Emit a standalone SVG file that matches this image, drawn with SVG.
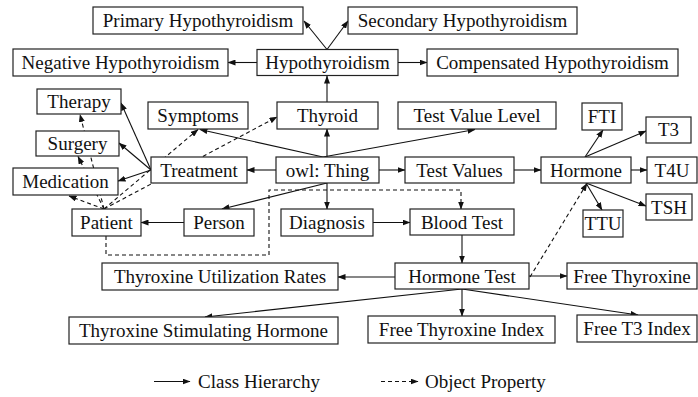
<svg xmlns="http://www.w3.org/2000/svg" width="698" height="397" viewBox="0 0 698 397">
<style>
.n rect{fill:#fff;stroke:#222;stroke-width:1.2}
.n text,.lg{font-family:"Liberation Serif","Times New Roman",serif;font-size:19px;fill:#111;text-anchor:middle}
.lg{text-anchor:start}
.c path{fill:none;stroke:#111;stroke-width:1.1;marker-end:url(#ah)}
.c path.d{stroke-dasharray:4,3}
</style>
<defs>
<marker id="ah" markerUnits="userSpaceOnUse" markerWidth="8" markerHeight="6" refX="7.5" refY="3" orient="auto">
<path d="M0,0 L8,3 L0,6 z" fill="#111"/>
</marker>
</defs>
<g id="connectors" class="c">
<path d="M327,49.5 L304,21"/>
<path d="M327,49.5 L348,21"/>
<path d="M257,62.5 L228,62.5"/>
<path d="M398,62.5 L427,62.5"/>
<path d="M327,102 L327,76"/>
<path d="M327,157 L327,129"/>
<path d="M323,157 L200,129.5"/>
<path d="M323,157 L475,129.5"/>
<path d="M276,170 L247,170"/>
<path d="M379,170 L405,170"/>
<path d="M514,170 L541,170"/>
<path d="M585,157 L603,130"/>
<path d="M585,157 L646,131"/>
<path d="M631,170 L647,170"/>
<path d="M586,183 L646,206"/>
<path d="M586,183 L602,210"/>
<path d="M151,170 L121,103"/>
<path d="M151,170 L119,143"/>
<path d="M151,170 L118,181"/>
<path d="M327,183 L222,209"/>
<path d="M184,222.5 L141,222.5"/>
<path d="M327,183 L327,209"/>
<path d="M373,222.5 L410,222.5"/>
<path d="M462,235 L462,263"/>
<path d="M395,277 L338,277"/>
<path d="M529,276 L567,276"/>
<path d="M462,289 L205,317"/>
<path d="M462,289 L462,316"/>
<path d="M462,289 L638,315"/>
<path class="d" d="M104,209 L198,129.5"/>
<path class="d" d="M104,209 L277,117"/>
<path class="d" d="M104,209 L80,114.5"/>
<path class="d" d="M104,209 L78,156.5"/>
<path class="d" d="M104,209 L69,196"/>
<path class="d" d="M530,277 L587,183.5"/>
<path class="d" d="M106,236 L106,255 L269,255 L269,190 L461,190 L461,209"/>
<path d="M154,381.5 L190,381.5"/>
<path class="d" d="M381,381.5 L418,381.5"/>
</g>
<g id="primary-hypothyroidism" class="n"><rect x="93" y="7" width="210" height="27"/><text x="198" y="27">Primary Hypothyroidism</text></g>
<g id="secondary-hypothyroidism" class="n"><rect x="348" y="7" width="229" height="27"/><text x="462.5" y="27">Secondary Hypothyroidism</text></g>
<g id="negative-hypothyroidism" class="n"><rect x="13" y="49" width="215" height="27"/><text x="120.5" y="69">Negative Hypothyroidism</text></g>
<g id="hypothyroidism" class="n"><rect x="257" y="49.5" width="141" height="26"/><text x="327.5" y="69">Hypothyroidism</text></g>
<g id="compensated-hypothyroidism" class="n"><rect x="427" y="49" width="251" height="27"/><text x="552.5" y="69">Compensated Hypothyroidism</text></g>
<g id="therapy" class="n"><rect x="37" y="89" width="84" height="25"/><text x="79" y="108">Therapy</text></g>
<g id="surgery" class="n"><rect x="36" y="131" width="83" height="25"/><text x="77.5" y="150">Surgery</text></g>
<g id="medication" class="n"><rect x="13" y="168" width="105" height="27"/><text x="65.5" y="188">Medication</text></g>
<g id="symptoms" class="n"><rect x="148" y="102" width="100" height="27"/><text x="198" y="122">Symptoms</text></g>
<g id="thyroid" class="n"><rect x="277" y="102" width="101" height="27"/><text x="327.5" y="122">Thyroid</text></g>
<g id="test-value-level" class="n"><rect x="398" y="102" width="158" height="27"/><text x="477" y="122">Test Value Level</text></g>
<g id="fti" class="n"><rect x="582" y="103" width="40" height="27"/><text x="602" y="123">FTI</text></g>
<g id="t3" class="n"><rect x="646" y="117" width="45" height="26"/><text x="668.5" y="136">T3</text></g>
<g id="treatment" class="n"><rect x="151" y="157" width="96" height="26"/><text x="199" y="176.5">Treatment</text></g>
<g id="owl-thing" class="n"><rect x="276" y="157" width="103" height="26"/><text x="327.5" y="176.5">owl: Thing</text></g>
<g id="test-values" class="n"><rect x="405" y="157" width="109" height="26"/><text x="459.5" y="176.5">Test Values</text></g>
<g id="hormone" class="n"><rect x="541" y="157" width="90" height="26"/><text x="586" y="176.5">Hormone</text></g>
<g id="t4u" class="n"><rect x="647" y="157" width="50" height="26"/><text x="672" y="176.5">T4U</text></g>
<g id="tsh" class="n"><rect x="646" y="194" width="46" height="26"/><text x="669" y="213.5">TSH</text></g>
<g id="ttu" class="n"><rect x="583" y="210" width="40" height="27"/><text x="603" y="230">TTU</text></g>
<g id="patient" class="n"><rect x="72" y="209" width="69" height="27"/><text x="106.5" y="229">Patient</text></g>
<g id="person" class="n"><rect x="184" y="209" width="70" height="27"/><text x="219" y="229">Person</text></g>
<g id="diagnosis" class="n"><rect x="281" y="209" width="92" height="27"/><text x="327" y="229">Diagnosis</text></g>
<g id="blood-test" class="n"><rect x="410" y="209" width="104" height="26"/><text x="462" y="228.5">Blood Test</text></g>
<g id="hormone-test" class="n"><rect x="395" y="263" width="134" height="26"/><text x="462" y="282.5">Hormone Test</text></g>
<g id="thyroxine-utilization-rates" class="n"><rect x="102" y="263" width="236" height="27"/><text x="220" y="283">Thyroxine Utilization Rates</text></g>
<g id="free-thyroxine" class="n"><rect x="567" y="263" width="130" height="26"/><text x="632" y="282.5">Free Thyroxine</text></g>
<g id="thyroxine-stimulating-hormone" class="n"><rect x="69" y="317" width="269" height="27"/><text x="203.5" y="337">Thyroxine Stimulating Hormone</text></g>
<g id="free-thyroxine-index" class="n"><rect x="368" y="316" width="187" height="27"/><text x="461.5" y="336">Free Thyroxine Index</text></g>
<g id="free-t3-index" class="n"><rect x="577" y="315" width="120" height="27"/><text x="637" y="335">Free T3 Index</text></g>
<g id="legend">
<text class="lg" x="198" y="388">Class Hierarchy</text>
<text class="lg" x="425" y="388">Object Property</text>
</g>
</svg>
